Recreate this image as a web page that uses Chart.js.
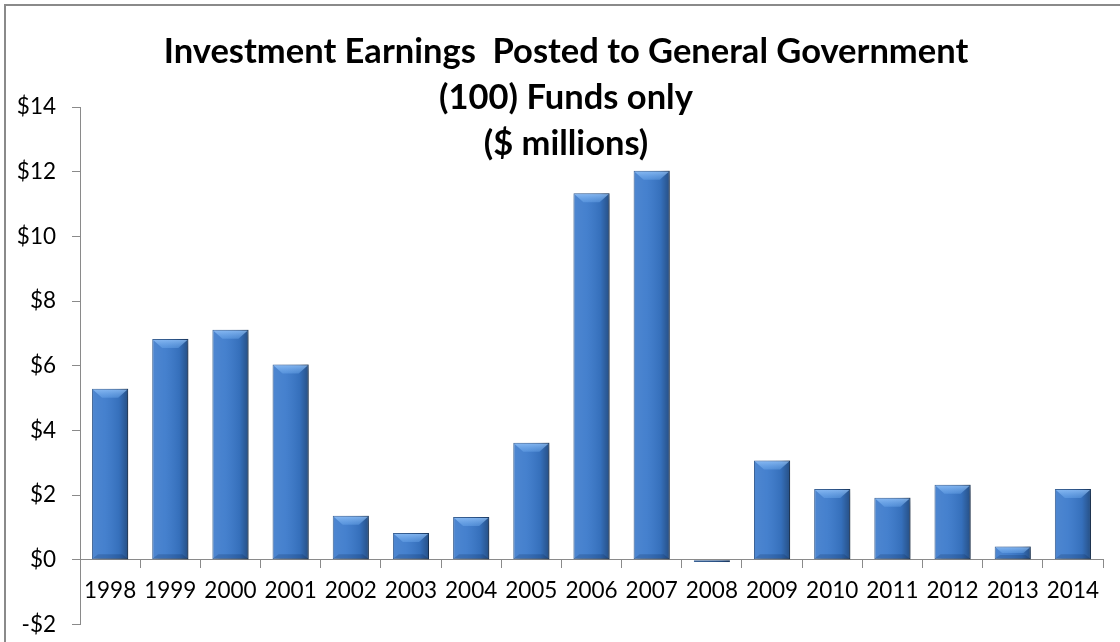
<!DOCTYPE html>
<html>
<head>
<meta charset="utf-8">
<script src="https://cdn.jsdelivr.net/npm/chart.js@4.4.0/dist/chart.umd.min.js"></script>
<style>
    html, body { margin: 0; padding: 0; background: #fff; }
    #wrap { position: relative; width: 1120px; height: 642px; overflow: hidden; }
    #marco { position: absolute; left: 4px; top: 4px; width: 1200px; height: 700px;
             border-left: 2px solid #8a8a8a; border-top: 2px solid #8a8a8a; }
    #grafico { position: absolute; left: 0; top: 0; }
    #titulo { position: absolute; left: 0; top: 26.5px; width: 1132px; text-align: center;
              font: bold 34.5px Lato, sans-serif; line-height: 46px; color: #000; }
</style>
</head>
<body>
<div id="wrap">
    <div id="marco"></div>
    <!-- el lienzo sobresale un poco por abajo: el área del gráfico llega casi al borde -->
    <canvas id="grafico" width="1120" height="654"></canvas>
    <div id="titulo">Investment Earnings&nbsp; Posted to General Government<br>(100) Funds only<br>($ millions)</div>
</div>
<script>
const anios = ["1998", "1999", "2000", "2001", "2002", "2003", "2004", "2005", "2006",
               "2007", "2008", "2009", "2010", "2011", "2012", "2013", "2014"];
// millones de dólares
const ganancias = [5.29, 6.83, 7.11, 6.04, 1.36, 0.83, 1.32, 3.62, 11.33,
                   12.03, -0.07, 3.07, 2.19, 1.92, 2.32, 0.41, 2.19];
const ejeMin = -2;
const ejeMax = 14;
const ejePaso = 2;

// sombra suave detrás de las barras
const sombra = {
    id: "sombra",
    beforeDatasetDraw(chart) {
        const ctx = chart.ctx;
        ctx.save();
        ctx.shadowColor = "rgba(0,0,0,0.30)";
        ctx.shadowBlur = 7;
        ctx.shadowOffsetX = 3;
        ctx.shadowOffsetY = 3;
    },
    afterDatasetDraw(chart) {
        chart.ctx.restore();
    }
};

// relieve: degradado lateral y biseles arriba / abajo
const relieve = {
    id: "relieve",
    afterDatasetsDraw(chart) {
        const ctx = chart.ctx;
        chart.getDatasetMeta(0).data.forEach(bar => {
            const izq = bar.x - bar.width / 2;
            const der = bar.x + bar.width / 2;
            const arriba = Math.min(bar.y, bar.base);
            const abajo = Math.max(bar.y, bar.base);
            const alto = abajo - arriba;
            if (alto < 1) return;

            ctx.save();
            const g = ctx.createLinearGradient(izq, 0, der, 0);
            g.addColorStop(0, "rgba(255,255,255,0.10)");
            g.addColorStop(0.35, "rgba(255,255,255,0.06)");
            g.addColorStop(0.75, "rgba(0,0,0,0.08)");
            g.addColorStop(1, "rgba(0,0,0,0.35)");
            ctx.fillStyle = g;
            ctx.fillRect(izq, arriba, der - izq, alto);

            const b = Math.min(9, alto / 2);
            const gb = ctx.createLinearGradient(0, arriba, 0, arriba + b);
            gb.addColorStop(0, "rgba(160,205,255,0.75)");
            gb.addColorStop(1, "rgba(120,180,245,0.35)");
            ctx.fillStyle = gb;
            ctx.beginPath();
            ctx.moveTo(izq + 1, arriba + 1);
            ctx.lineTo(der - 1, arriba + 1);
            ctx.lineTo(der - 1 - b, arriba + b);
            ctx.lineTo(izq + 1 + b, arriba + b);
            ctx.closePath();
            ctx.fill();

            const bb = Math.min(5, alto / 3);
            ctx.fillStyle = "rgba(0,20,60,0.18)";
            ctx.beginPath();
            ctx.moveTo(izq + 1, abajo - 1);
            ctx.lineTo(der - 1, abajo - 1);
            ctx.lineTo(der - 1 - bb, abajo - bb);
            ctx.lineTo(izq + 1 + bb, abajo - bb);
            ctx.closePath();
            ctx.fill();
            ctx.restore();
        });
    }
};

const fuente = { family: "Lato, sans-serif", size: 22.5 };

new Chart(document.getElementById("grafico"), {
    type: "bar",
    data: {
        labels: anios,
        datasets: [{
            data: ganancias,
            backgroundColor: "#3a79cb",
            borderColor: "#2a568f",
            borderWidth: 1,
            borderSkipped: false,
            barPercentage: 0.6,
            categoryPercentage: 1
        }]
    },
    options: {
        responsive: false,
        animation: false,
        layout: { padding: { left: 0, right: 17, top: 107, bottom: 18 } },
        scales: {
            x: {
                position: { y: 0 },
                // el eje cruza en cero, no necesita espacio abajo
                afterFit(scale) { scale.height = 0; },
                grid: { offset: true, drawOnChartArea: false, drawTicks: true, tickLength: 8, color: "#8a8a8a" },
                border: { display: true, color: "#8a8a8a" },
                ticks: { color: "#000", font: fuente, padding: 9, maxRotation: 0, autoSkip: false }
            },
            y: {
                min: ejeMin,
                max: ejeMax,
                afterFit(scale) { scale.width = 80; },
                grid: { drawOnChartArea: false, drawTicks: true, tickLength: 8, color: "#8a8a8a" },
                border: { display: true, color: "#8a8a8a" },
                ticks: {
                    stepSize: ejePaso,
                    color: "#000",
                    font: fuente,
                    padding: 16,
                    callback: v => (v < 0 ? "-$" + Math.abs(v) : "$" + v)
                }
            }
        },
        plugins: {
            legend: { display: false },
            tooltip: { enabled: false }
        }
    },
    plugins: [sombra, relieve]
});
</script>
</body>
</html>
